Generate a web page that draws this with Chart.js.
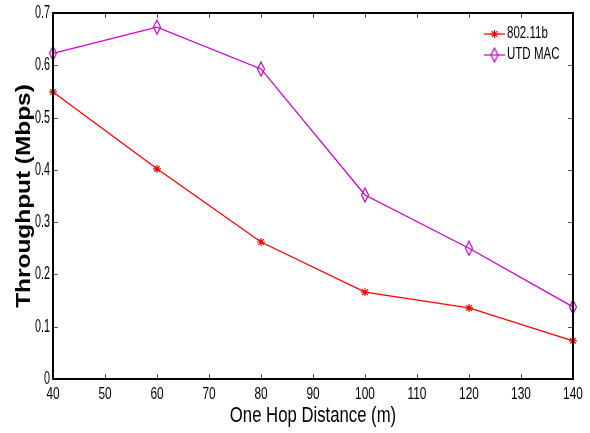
<!DOCTYPE html>
<html>
<head>
<meta charset="utf-8">
<script src="https://cdn.jsdelivr.net/npm/chart.js@4/dist/chart.umd.min.js"></script>
<style>
  html, body { margin: 0; padding: 0; background: #fff; }
</style>
</head>
<body>
<canvas id="myChart" width="590" height="433"></canvas>
<script>
/* DATA */
const distances = [40, 60, 80, 100, 120, 140];
const dot11b = [0.549, 0.402, 0.262, 0.166, 0.136, 0.073];
const utdMac = [0.623, 0.673, 0.593, 0.352, 0.250, 0.138];
const xTicks = [40, 50, 60, 70, 80, 90, 100, 110, 120, 130, 140];
const yTicks = [0, 0.1, 0.2, 0.3, 0.4, 0.5, 0.6, 0.7];
const xTitle = 'One Hop Distance (m)';
const yTitle = 'Throughput (Mbps)';

const FONT = '"Liberation Sans", Arial, sans-serif';

/* tall diamond marker */
function diamond(color){
    let c = document.createElement('canvas');
    c.width = 10;
    c.height = 16;
    let g = c.getContext('2d');
    g.strokeStyle = color;
    g.lineWidth = 1.2;
    g.beginPath();
    g.moveTo(5, 1);
    g.lineTo(8.5, 8);
    g.lineTo(5, 15);
    g.lineTo(1.5, 8);
    g.closePath();
    g.stroke();
    return c;
}

const toPoints = ys => distances.map((x, i) => ({x: x, y: ys[i]}));

// squeezed text, like the condensed matlab font
function squeezed(ctx, text, x, y, size, sx, align, weight, rot){
    ctx.save();
    ctx.translate(x, y);
    if (rot) ctx.rotate(rot);
    ctx.scale(sx, 1);
    ctx.font = (weight || '') + ' ' + size + 'px ' + FONT;
    ctx.fillStyle = '#000';
    ctx.textAlign = align;
    ctx.textBaseline = 'middle';
    ctx.fillText(text, 0, 0);
    ctx.restore();
}

/* box + inward ticks + labels + legend */
const boxPlugin = {
    id: 'box',
    afterDraw(chart){
        const {ctx, chartArea: a, scales} = chart;
        ctx.save();
        ctx.strokeStyle = '#555';
        ctx.lineWidth = 1;
        ctx.beginPath();
        xTicks.forEach(v => {
            let px = Math.round(scales.x.getPixelForValue(v)) + 0.5;
            ctx.moveTo(px, a.bottom); ctx.lineTo(px, a.bottom - 5);
            ctx.moveTo(px, a.top); ctx.lineTo(px, a.top + 5);
        });
        yTicks.forEach(v => {
            let py = Math.round(scales.y.getPixelForValue(v)) + 0.5;
            ctx.moveTo(a.left, py); ctx.lineTo(a.left + 5, py);
            ctx.moveTo(a.right, py); ctx.lineTo(a.right - 5, py);
        });
        ctx.stroke();
        ctx.strokeStyle = '#000';
        ctx.lineWidth = 2;
        ctx.strokeRect(a.left, a.top, a.right - a.left, a.bottom - a.top);

        // tick labels
        xTicks.forEach(v => {
            squeezed(ctx, String(v), scales.x.getPixelForValue(v), a.bottom + 15, 17, 0.7, 'center');
        });
        yTicks.forEach(v => {
            squeezed(ctx, String(v), a.left - 3, scales.y.getPixelForValue(v), 18, 0.6, 'right');
        });

        // axis titles
        squeezed(ctx, xTitle, (a.left + a.right) / 2, 416, 22, 0.76, 'center');
        squeezed(ctx, yTitle, 24, (a.top + a.bottom) / 2, 20, 1.22, 'center', 'bold', -Math.PI / 2);

        // legend
        chart.data.datasets.forEach((ds, i) => {
            let y = a.top + 21 + i * 21;
            let x0 = a.right - 89;
            ctx.strokeStyle = ds.borderColor;
            ctx.lineWidth = 1.2;
            ctx.beginPath();
            ctx.moveTo(x0, y); ctx.lineTo(x0 + 21, y);
            ctx.stroke();
            Chart.helpers.drawPoint(ctx, {
                pointStyle: ds.pointStyle,
                radius: ds.pointRadius,
                borderWidth: ds.pointBorderWidth || 1.2
            }, x0 + 10.5, y);
            squeezed(ctx, ds.label, x0 + 23, y, 16, 0.72, 'left');
        });
        ctx.restore();
    }
};

const config = {
    type: 'line',
    data: {
        datasets: [{
            label: '802.11b',
            data: toPoints(dot11b),
            borderColor: '#ff0000',
            backgroundColor: '#ff0000',
            borderWidth: 1.3,
            pointStyle: 'star',
            pointRadius: 4,
            pointBorderWidth: 1.2,
            tension: 0,
            clip: false
        }, {
            label: 'UTD MAC',
            data: toPoints(utdMac),
            borderColor: '#cc00cc',
            backgroundColor: 'rgba(0,0,0,0)',
            borderWidth: 1.3,
            pointStyle: diamond('#cc00cc'),
            pointRadius: 6,
            tension: 0,
            clip: false
        }]
    },
    options: {
        responsive: false,
        animation: false,
        devicePixelRatio: 1,
        layout: { padding: { top: 13, right: 17, left: 0, bottom: 0 } },
        plugins: {
            legend: { display: false },
            tooltip: { enabled: false }
        },
        scales: {
            x: {
                type: 'linear',
                min: 40,
                max: 140,
                afterFit: s => { s.height = 54; },
                grid: { display: false },
                border: { display: false },
                ticks: { display: false }
            },
            y: {
                min: 0,
                max: 0.7,
                afterFit: s => { s.width = 53; },
                grid: { display: false },
                border: { display: false },
                ticks: { display: false }
            }
        }
    },
    plugins: [boxPlugin]
};

let myChart = new Chart(document.getElementById('myChart'), config);
</script>
</body>
</html>
